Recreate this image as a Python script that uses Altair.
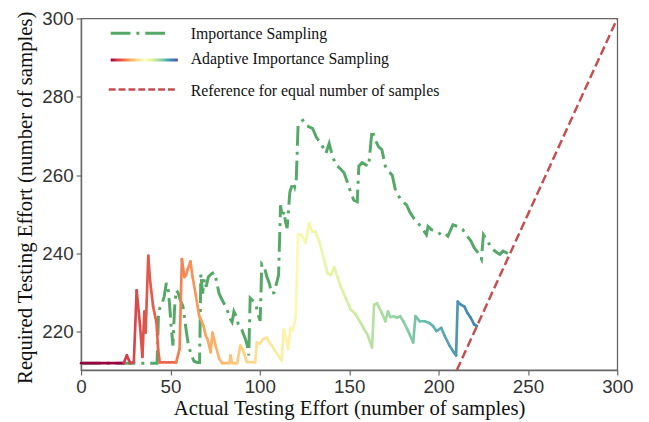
import altair as alt
import pandas as pd

# ---- data ----
is_x = [0, 42.5, 43.3, 44, 45.5, 46.5, 47.7, 48.7, 49.5, 50.3, 51.4, 52.3, 53.2, 54.3, 55.3, 57, 58.3, 60,
        61.6, 63.2, 65, 66.3, 67, 68, 69, 70, 71.2, 72.9, 74.4, 75.5, 77.2, 78.5, 80.8, 82.2, 83.6, 84.5,
        85.5, 86.8, 88.2, 90, 91.9, 93, 93.8, 94.6, 96.5, 98, 99.3, 100.2, 101.1, 102.5, 104, 105.4, 106.6,
        108, 109.4, 110.5, 111.6, 112.5, 113.5, 114.4, 115.3, 116.8, 118.6, 119.5, 120.4, 121.4, 122.7,
        124.1, 126, 127.8, 129.6, 131.5, 133.3, 135.1, 137, 138.8, 140.7, 142.5, 145.3, 147.1, 149, 150.8,
        152.6, 154.5, 155.4, 157.2, 159.1, 160.9, 162.8, 164.6, 166.4, 168.3, 170.2, 172, 174.1, 175.7,
        178.5, 180.5, 182.1, 184, 186.7, 189, 191.3, 193.2, 194.1, 196, 198.8, 201.5, 203.4, 205.2, 208,
        210.8, 213.5, 215.4, 218.1, 219.9, 222.7, 224, 225.1, 227.3, 230.1, 232.8, 234.3, 236.1, 238.8]
is_y = [212, 212, 224, 226, 227.5, 229, 232.5, 231, 227, 222, 216.5, 226, 230.6, 230, 228.3, 226.5, 222, 216.7,
        214.2, 212.5, 212.2, 212.2, 234.8, 229.8, 233.5, 231.5, 234, 234.8, 235.2, 233.5, 229.8, 228.5, 226.5,
        225, 223.2, 222.5, 225.2, 224, 221.5, 220.5, 218.2, 216.5, 214, 228.6, 227.8, 226.5, 224, 222.8,
        237.3, 236.5, 234, 232.3, 229.8, 230, 232.5, 234.5, 252.3, 249.4, 250.7, 248, 246.5, 255.7, 258.2,
        257, 259, 272.7, 273.5, 274, 272.7, 272.3, 271.9, 269.8, 268.6, 267.3, 265.6, 268.1, 264.8, 262.7,
        261.5, 260.6, 258.2, 255.7, 253.6, 253.2, 262.3, 263.2, 262.7, 262.3, 271.5, 269, 267.3, 266.5,
        262.3, 261, 260, 256.5, 254, 253, 252.4, 250.5, 248.6, 247.5, 246.1, 244.8, 246.9, 246.1, 245.7,
        244.8, 245.2, 244.4, 247.3, 246.9, 246.1, 244.8, 243.2, 241.5, 239.8, 238.6, 244.8, 243.2, 241.1,
        240.2, 239.8, 240.6, 240]

ais_x = [0, 23.8, 25.6, 27.5, 29.5, 31.1, 33, 34.3, 35.4, 36.1, 37.6, 38.5, 40.3, 42.2, 43.1, 44, 53.2, 55.1,
         56.4, 57.8, 58.7, 59.7, 61.2, 62.4, 64.3, 66.1, 67, 68.5, 69.8, 70.7, 72.5, 73.5, 75.3, 77.2, 79, 83,
         83.6, 84.5, 87.3, 89.1, 90.5, 92.8, 97.4, 98.3, 100, 102, 104, 105, 106.6, 108.5, 110.3, 112.2,
         113.4, 114.6, 115.9, 117.1, 118.6, 120.1, 121.4, 123.2, 125.6, 127.5, 129.3, 131.1, 133.3, 136.1,
         138, 139.8, 141.6, 143.5, 145.3, 148.1, 150.8, 153.6, 156.4, 158.2, 160.1, 162.8, 163.9, 165.6,
         168.3, 170.2, 171.7, 173, 174.8, 176.6, 178.5, 180.3, 183, 185.8, 187.1, 189.5, 192.3, 195, 196.9,
         198.8, 201.5, 203.4, 206.1, 208.5, 209.8, 210.7, 212.5, 214.4, 216.2, 218, 219.9, 221.5]
ais_y = [212, 212, 214, 212, 212.3, 230.6, 221.5, 213.6, 225.2, 219.8, 239.4, 233.6, 226.5, 222.3, 215.6, 212.2,
         212.2, 215.6, 238.6, 234, 234.5, 236, 238, 234, 229, 224, 223.2, 221.5, 219, 218.2, 214.8, 219.8,
         216.5, 213.2, 212, 212, 214, 212, 212, 216.5, 215.5, 212.3, 212.2, 217.3, 217, 218.2, 218.5, 217.5,
         216.5, 215.2, 214, 212.7, 220.6, 218.5, 215.6, 221, 220.4, 224, 244.8, 244.8, 242.7, 247.7, 245.6,
         245.6, 243, 238.2, 234.8, 234.5, 236.5, 234, 231.5, 228.6, 225.7, 224.5, 222.3, 220.8, 219.4, 216,
         226.9, 227.3, 224.8, 222.7, 225.2, 223.8, 224, 223.6, 224, 222.7, 220.2, 217.3, 224, 222.7, 222.7,
         222.2, 221.5, 220.2, 221, 219, 216.5, 214.8, 214, 227.7, 226.9, 226.5, 224.8, 223.6, 221.9, 221.5]

ref_x = [210.25, 300]
ref_y = [210.25, 300]

x_ticks = [0, 50, 100, 150, 200, 250, 300]
y_ticks = [220, 240, 260, 280, 300]
legend_labels = ["Importance Sampling", "Adaptive Importance Sampling",
                 "Reference for equal number of samples"]
spectral = ["#9e0142", "#d53e4f", "#f46d43", "#fdae61", "#fee08b", "#ffffbf",
            "#e6f598", "#abdda4", "#66c2a5", "#3288bd", "#5e4fa2"]

GREEN = "#55a868"
RED = "#c44e52"

xs = alt.Scale(domain=[0, 300], nice=False, zero=False)
ys = alt.Scale(domain=[210.25, 300], nice=False, zero=False)
x_axis = alt.Axis(values=x_ticks, title="Actual Testing Effort (number of samples)", grid=False,
                  tickSize=5, labelPadding=3, titlePadding=1, labelFlush=False)
y_axis = alt.Axis(values=y_ticks, title="Required Testing Effort (number of samples)", grid=False,
                  tickSize=5, labelPadding=3, titlePadding=7, labelFlush=False, titleY=181)

is_df = pd.DataFrame({"x": is_x, "y": is_y, "i": list(range(len(is_x)))})
ais_df = pd.DataFrame({"x": ais_x[:-1], "y": ais_y[:-1], "x2": ais_x[1:], "y2": ais_y[1:]})
ref_df = pd.DataFrame({"x": ref_x, "y": ref_y})

is_line = alt.Chart(is_df).mark_line(color=GREEN, strokeWidth=3, strokeDash=[20, 6, 3, 6]).encode(
    x=alt.X("x:Q", scale=xs, axis=x_axis),
    y=alt.Y("y:Q", scale=ys, axis=y_axis),
    order="i:Q",
)

ais_line = alt.Chart(ais_df).mark_rule(strokeWidth=2.7, strokeCap="round").encode(
    x=alt.X("x:Q", scale=xs, axis=x_axis),
    y=alt.Y("y:Q", scale=ys, axis=y_axis),
    x2="x2:Q",
    y2="y2:Q",
    color=alt.Color("x:Q", scale=alt.Scale(scheme="spectral", domain=[0, 240]), legend=None),
)

ref_line = alt.Chart(ref_df).mark_line(color=RED, strokeWidth=2.5, strokeDash=[9, 4], clip=True).encode(
    x=alt.X("x:Q", scale=xs, axis=x_axis),
    y=alt.Y("y:Q", scale=ys, axis=y_axis),
)

# ---- custom legend ----
one = pd.DataFrame({"k": [0]})
leg_is = alt.Chart(one).mark_rule(color=GREEN, strokeWidth=3, strokeDash=[20, 6, 3, 6]).encode(
    x=alt.value(30), x2=alt.value(91), y=alt.value(15))
grad = alt.Gradient(gradient="linear", x1=0, x2=1, y1=0, y2=0,
                    stops=[alt.GradientStop(color=c, offset=i / (len(spectral) - 1))
                           for i, c in enumerate(spectral)])
leg_ais = alt.Chart(one).mark_rect(color=grad).encode(
    x=alt.value(30), x2=alt.value(98), y=alt.value(40.5), y2=alt.value(43.5))
leg_ref = alt.Chart(one).mark_rule(color=RED, strokeWidth=2.5, strokeDash=[7, 3]).encode(
    x=alt.value(28), x2=alt.value(96), y=alt.value(72))

def leg_text(label, ypos):
    return alt.Chart(one).mark_text(text=label, align="left", baseline="middle",
                                    font="Liberation Serif", fontSize=16, color="#111").encode(
        x=alt.value(111), y=alt.value(ypos))

chart = alt.layer(
    is_line, ais_line, ref_line,
    leg_is, leg_ais, leg_ref,
    leg_text(legend_labels[0], 15.5),
    leg_text(legend_labels[1], 41.5),
    leg_text(legend_labels[2], 73),
).properties(
    width=543, height=356,
    autosize=alt.AutoSizeParams(type="none"),
    padding={"left": 74, "top": 8, "right": 24, "bottom": 50},
).configure_view(
    stroke="#666", strokeWidth=1.3
).configure_axis(
    domainColor="#666", domainWidth=1.3, tickColor="#666", tickWidth=1.2,
    labelFont="Liberation Sans", labelFontSize=19, labelColor="#333",
    titleFont="Liberation Serif", titleFontSize=21, titleFontWeight="normal", titleColor="#111",
)

chart.save("out.html", embed_options={"renderer": "svg", "actions": False})
